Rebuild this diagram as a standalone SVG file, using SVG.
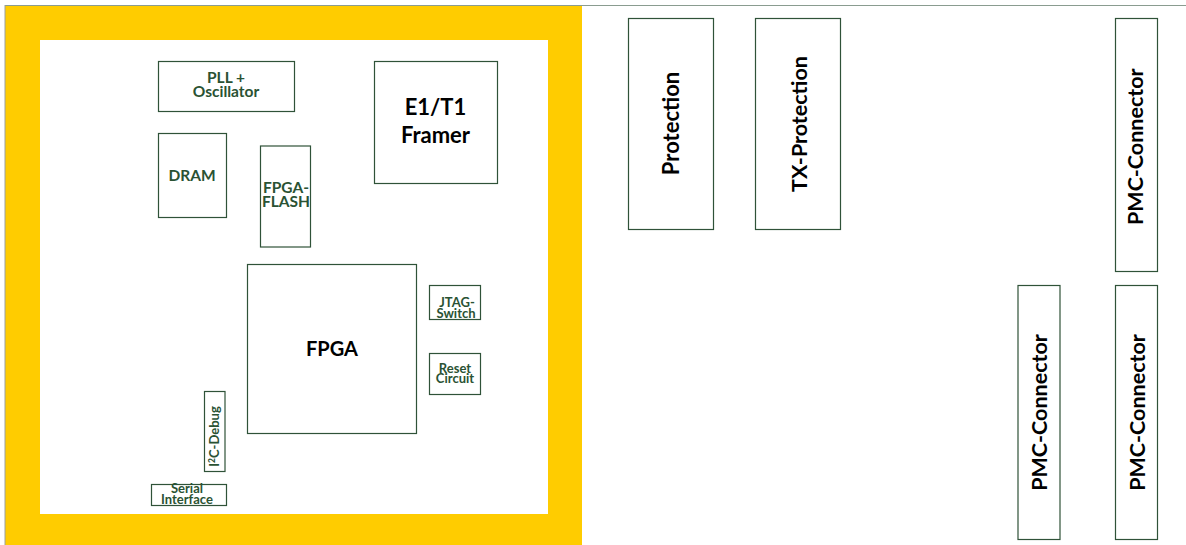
<svg xmlns="http://www.w3.org/2000/svg" width="1186" height="545" viewBox="0 0 1186 545">
<style>
.box{fill:#fff;stroke:#2f5238;stroke-width:1.2}
.g{fill:#2a5233;font-family:Lato,"Liberation Sans",sans-serif;font-weight:bold;text-anchor:middle}
.k{fill:#000;font-family:Lato,"Liberation Sans",sans-serif;font-weight:bold;text-anchor:middle}
</style>
<rect x="0" y="0" width="1186" height="545" fill="#fff"/>
<g id="frame">
<rect x="5" y="6" width="577" height="539" fill="#ffcc00"/>
<rect x="40" y="40" width="508" height="474" fill="#fff"/>
<line x1="5" y1="5.5" x2="1186" y2="5.5" stroke="#8a9c90" stroke-width="1"/>
<line x1="5" y1="5" x2="5" y2="545" stroke="#9aa0a0" stroke-width="1"/>
</g>
<g id="connectors"></g>
<g id="pll"><rect class="box" x="158.5" y="61.5" width="136" height="50"/>
<text class="g" font-size="15.5"><tspan x="226" y="83.3">PLL +</tspan><tspan x="226" y="96.7">Oscillator</tspan></text></g>
<g id="dram"><rect class="box" x="158.5" y="133.5" width="68" height="84"/>
<text class="g" font-size="15.5" x="192" y="180.7">DRAM</text></g>
<g id="flash"><rect class="box" x="260.5" y="146" width="50" height="101"/>
<text class="g" font-size="15.5"><tspan x="286" y="193.3">FPGA-</tspan><tspan x="286" y="206.7">FLASH</tspan></text></g>
<g id="framer"><rect class="box" x="374.5" y="61.5" width="123" height="122"/>
<text class="k" font-size="22"><tspan x="435.5" y="115">E1/T1</tspan><tspan x="435.5" y="143.3">Framer</tspan></text></g>
<g id="fpga"><rect class="box" x="247.5" y="264.5" width="169" height="169"/>
<text class="k" font-size="20" x="332" y="356">FPGA</text></g>
<g id="jtag"><rect class="box" x="429.5" y="285.5" width="51" height="34"/>
<text class="g" font-size="13"><tspan x="457" y="306.5">JTAG-</tspan><tspan x="456" y="317.7">Switch</tspan></text></g>
<g id="reset"><rect class="box" x="429.5" y="353.5" width="51" height="41"/>
<text class="g" font-size="13"><tspan x="455" y="372.7">Reset</tspan><tspan x="455" y="383.3">Circuit</tspan></text></g>
<g id="i2c"><rect class="box" x="204.5" y="391.5" width="20.5" height="80"/>
<text class="g" font-size="13" transform="translate(219,436.5) rotate(-90)" x="0" y="0">I<tspan font-size="8.5" dy="-4.5">2</tspan><tspan dy="4.5">C-Debug</tspan></text></g>
<g id="serial"><rect class="box" x="151.5" y="484.5" width="75" height="21"/>
<text class="g" font-size="13"><tspan x="187" y="493.3">Serial</tspan><tspan x="187" y="504">Interface</tspan></text></g>
<g id="protection"><rect class="box" x="628.5" y="18.5" width="85" height="211"/>
<text class="k" font-size="22" transform="translate(679.3,123.5) rotate(-90)">Protection</text></g>
<g id="txprotection"><rect class="box" x="755.5" y="18.5" width="85" height="211"/>
<text class="k" font-size="21.5" transform="translate(806.5,124) rotate(-90)">TX-Protection</text></g>
<g id="pmc1"><rect class="box" x="1115.5" y="18.5" width="42" height="253"/>
<text class="k" font-size="21.5" transform="translate(1143,146.7) rotate(-90)">PMC-Connector</text></g>
<g id="pmc2"><rect class="box" x="1018" y="285.5" width="42" height="254"/>
<text class="k" font-size="21.5" transform="translate(1046.5,412.5) rotate(-90)">PMC-Connector</text></g>
<g id="pmc3"><rect class="box" x="1115.5" y="285.5" width="42" height="254"/>
<text class="k" font-size="21.5" transform="translate(1145,412.5) rotate(-90)">PMC-Connector</text></g>
</svg>
